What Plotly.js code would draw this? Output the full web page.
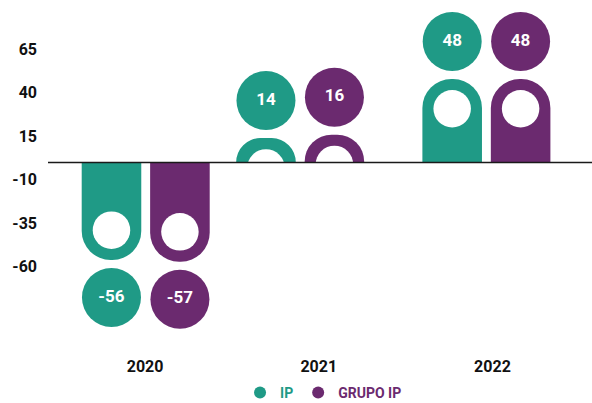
<!DOCTYPE html>
<html>
<head>
<meta charset="utf-8">
<script src="https://cdn.plot.ly/plotly-3.0.1.min.js"></script>
<style>
  html, body { margin: 0; padding: 0; background: #ffffff; }
  #chart { width: 592px; height: 403px; }
</style>
</head>
<body>
<div id="chart"></div>
<script>
// ---- data ----
const categories = ['2020', '2021', '2022'];
const seriesNames = ['IP', 'GRUPO IP'];
const ipValues = [-56, 14, 48];
const grupoValues = [-57, 16, 48];
const yTickValues = [65, 40, 15, -10, -35, -60];
const yTickLabels = ['65', '40', '15', '-10', '-35', '-60'];

// ---- layout constants ----
const W = 592, H = 403;
const M = { l: 48, r: 0, t: 5, b: 58, autoexpand: false };
const plotH = H - M.t - M.b;
const yRange = [-104.9, 90.5];
const xRange = [-0.559, 2.573];
const pxPerUnit = plotH / (yRange[1] - yRange[0]);
const catShift = [0.0035, -0.107, -0.035];
const halfSep = 0.197;
const barWidth = 0.343;
const barWidthPx = barWidth * (W - M.l - M.r) / (xRange[1] - xRange[0]);
const capR = barWidthPx / 2;          // rounded end radius, px
const holeSize = 37.5;                // px
const badgeSize = 59;                 // px
const badgeGap = 37.5;                // px, bar end -> badge centre
const colors = ['#1f9a86', '#6b2a6f'];
const FONT = 'Roboto, "Open Sans", Arial, sans-serif';

const catIndex = categories.map((c, i) => i);
const allValues = [ipValues, grupoValues];
const traces = [];

allValues.forEach((vals, s) => {
  const sign = s === 0 ? -1 : 1;
  const xs = catIndex.map(i => i + catShift[i] + sign * halfSep);
  // rounded bars
  traces.push({
    type: 'bar', x: xs, y: vals, width: barWidth,
    marker: { color: colors[s], cornerradius: '50%', line: { width: 0 } },
    showlegend: false, hoverinfo: 'skip'
  });
  // white holes, concentric with the rounded end
  traces.push({
    type: 'scatter', mode: 'markers', x: xs,
    y: vals.map(v => v - Math.sign(v) * capR / pxPerUnit),
    marker: { color: '#ffffff', size: holeSize, line: { width: 0 } },
    showlegend: false, hoverinfo: 'skip', cliponaxis: false
  });
  // value badges
  const badgeY = vals.map(v => v + Math.sign(v) * badgeGap / pxPerUnit);
  traces.push({
    type: 'scatter', mode: 'markers', x: xs, y: badgeY,
    name: '<span style="color:' + colors[s] + '">' + seriesNames[s] + '</span>',
    marker: { color: colors[s], size: badgeSize, line: { width: 0 } },
    showlegend: true, hoverinfo: 'skip', cliponaxis: false
  });
  traces.push({
    type: 'scatter', mode: 'text', x: xs, y: badgeY,
    text: vals.map(v => String(v)),
    textposition: 'middle center',
    textfont: { family: FONT, size: 17, color: '#ffffff', weight: 700 },
    showlegend: false, hoverinfo: 'skip', cliponaxis: false
  });
});

const layout = {
  width: W, height: H,
  margin: M,
  paper_bgcolor: '#ffffff', plot_bgcolor: '#ffffff',
  barmode: 'overlay',
  showlegend: true,
  font: { family: FONT, size: 16, color: '#111111', weight: 700 },
  xaxis: {
    range: xRange, fixedrange: true,
    tickmode: 'array', tickvals: catIndex, ticktext: categories,
    showgrid: false, zeroline: false, showline: false, ticks: '',
    ticklabelstandoff: 10,
    tickfont: { family: FONT, size: 16, color: '#111111', weight: 700 }
  },
  yaxis: {
    range: yRange, fixedrange: true,
    tickmode: 'array', tickvals: yTickValues, ticktext: yTickLabels,
    showgrid: false, zeroline: false, showline: false, ticks: '',
    ticklabelstandoff: 10,
    tickfont: { family: FONT, size: 16, color: '#111111', weight: 700 }
  },
  shapes: [{
    type: 'line', xref: 'paper', yref: 'y', x0: 0, x1: 1, y0: 0, y1: 0,
    line: { color: '#1a1a1a', width: 1.5 }, layer: 'above'
  }],
  legend: {
    orientation: 'h', x: 0.353, xanchor: 'left', y: -0.141, yanchor: 'middle',
    itemsizing: 'constant', bgcolor: 'rgba(0,0,0,0)',
    font: { family: FONT, size: 14, weight: 700 }
  }
};

Plotly.newPlot('chart', traces, layout, { displayModeBar: false, staticPlot: true });
</script>
</body>
</html>
